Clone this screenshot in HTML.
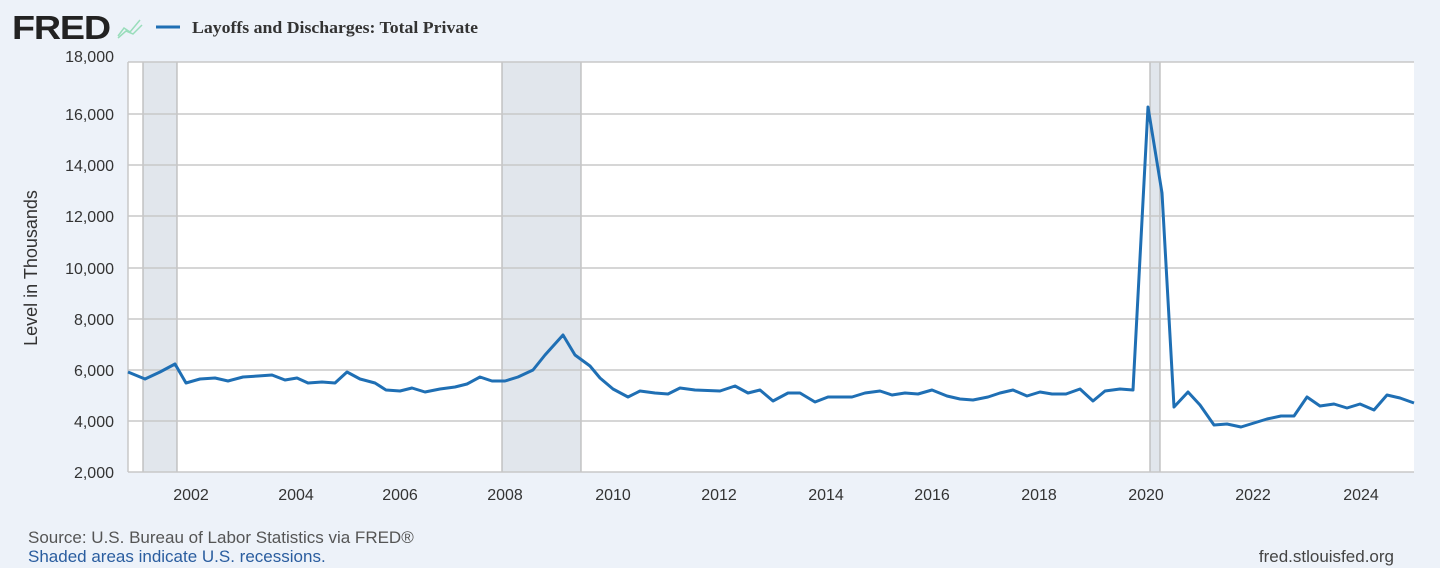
<!DOCTYPE html>
<html><head><meta charset="utf-8"><style>
html,body{margin:0;padding:0;background:#edf2f9;width:1440px;height:568px;overflow:hidden;font-family:"Liberation Sans",sans-serif;}
</style></head><body>
<svg width="1440" height="568" xmlns="http://www.w3.org/2000/svg" style="position:absolute;left:0;top:0">
<rect width="1440" height="568" fill="#edf2f9"/>
<text x="12" y="39" font-family="Liberation Sans" font-weight="bold" font-size="33" fill="#222" letter-spacing="-1" textLength="98" lengthAdjust="spacingAndGlyphs">FRED</text>
<g stroke="#9db" stroke-width="1.5" fill="none"><path d="M118 36 L124 28 L130 32 L140 20"/><path d="M118 38 L126 31 L133 34 L142 25"/></g>
<line x1="156" y1="27" x2="180" y2="27" stroke="#1f6fb4" stroke-width="3"/>
<text x="192" y="33" font-family="Liberation Serif" font-weight="bold" font-size="17" fill="#333" textLength="286" lengthAdjust="spacingAndGlyphs">Layoffs and Discharges: Total Private</text>
<rect x="128" y="62" width="1286" height="410" fill="#fff"/>
<rect x="143" y="62" width="34" height="410" fill="#e1e6ec"/>
<rect x="502" y="62" width="79" height="410" fill="#e1e6ec"/>
<rect x="1150" y="62" width="10" height="410" fill="#e1e6ec"/>
<g stroke="#bbb" stroke-width="1.3">
<line x1="143" y1="62" x2="143" y2="472"/><line x1="177" y1="62" x2="177" y2="472"/>
<line x1="502" y1="62" x2="502" y2="472"/><line x1="581" y1="62" x2="581" y2="472"/>
<line x1="1150" y1="62" x2="1150" y2="472"/><line x1="1160" y1="62" x2="1160" y2="472"/>
</g>
<g stroke="#c8c8c8" stroke-width="1.5">
<line x1="128" y1="62" x2="1414" y2="62"/><line x1="128" y1="114" x2="1414" y2="114"/>
<line x1="128" y1="165" x2="1414" y2="165"/><line x1="128" y1="216" x2="1414" y2="216"/>
<line x1="128" y1="268" x2="1414" y2="268"/><line x1="128" y1="319" x2="1414" y2="319"/>
<line x1="128" y1="370" x2="1414" y2="370"/><line x1="128" y1="421" x2="1414" y2="421"/>
<line x1="128" y1="472" x2="1414" y2="472"/>
<line x1="128" y1="62" x2="128" y2="472"/>
</g>
<g font-family="Liberation Sans" font-size="16" fill="#333" text-anchor="end">
<text x="114" y="62">18,000</text><text x="114" y="120">16,000</text><text x="114" y="171">14,000</text>
<text x="114" y="222">12,000</text><text x="114" y="274">10,000</text><text x="114" y="325">8,000</text>
<text x="114" y="376">6,000</text><text x="114" y="427">4,000</text><text x="114" y="478">2,000</text>
</g>
<text transform="translate(37,268) rotate(-90)" font-family="Liberation Sans" font-size="18" fill="#333" text-anchor="middle">Level in Thousands</text>
<g font-family="Liberation Sans" font-size="16" fill="#333" text-anchor="middle">
<text x="191" y="500">2002</text><text x="296" y="500">2004</text><text x="400" y="500">2006</text>
<text x="505" y="500">2008</text><text x="613" y="500">2010</text><text x="719" y="500">2012</text>
<text x="826" y="500">2014</text><text x="932" y="500">2016</text><text x="1039" y="500">2018</text>
<text x="1146" y="500">2020</text><text x="1253" y="500">2022</text><text x="1361" y="500">2024</text>
</g>
<polyline fill="none" stroke="#1f6fb4" stroke-width="3" stroke-linejoin="round" points="128,372 145,379 160,372 175,364 186,383 200,379 215,378 228,381 243,377 258,376 272,375 285,380 297,378 308,383 322,382 335,383 347,372 360,379 375,383 386,390 400,391 412,388 425,392 440,389 455,387 467,384 480,377 492,381 505,381 518,377 533,370 545,355 563,335 575,355 590,366 600,378 613,389 628,397 640,391 655,393 668,394 680,388 695,390 720,391 735,386 748,393 760,390 773,401 788,393 800,393 815,402 828,397 840,397 852,397 865,393 880,391 892,395 905,393 918,394 932,390 947,396 960,399 973,400 988,397 1000,393 1013,390 1027,396 1040,392 1052,394 1066,394 1080,389 1093,401 1105,391 1120,389 1133,390 1148,107 1162,193 1174,407 1188,392 1200,405 1214,425 1227,424 1241,427 1254,423 1267,419 1281,416 1294,416 1307,397 1320,406 1334,404 1347,408 1360,404 1374,410 1387,395 1400,398 1414,403"/>
<g font-family="Liberation Sans" font-size="17" fill="#2a5d9f">
<text x="28" y="543" fill="#555">Source: U.S. Bureau of Labor Statistics via FRED®</text>
<text x="28" y="562">Shaded areas indicate U.S. recessions.</text>
<text x="1394" y="562" text-anchor="end" fill="#444">fred.stlouisfed.org</text>
</g>
</svg>
</body></html>
